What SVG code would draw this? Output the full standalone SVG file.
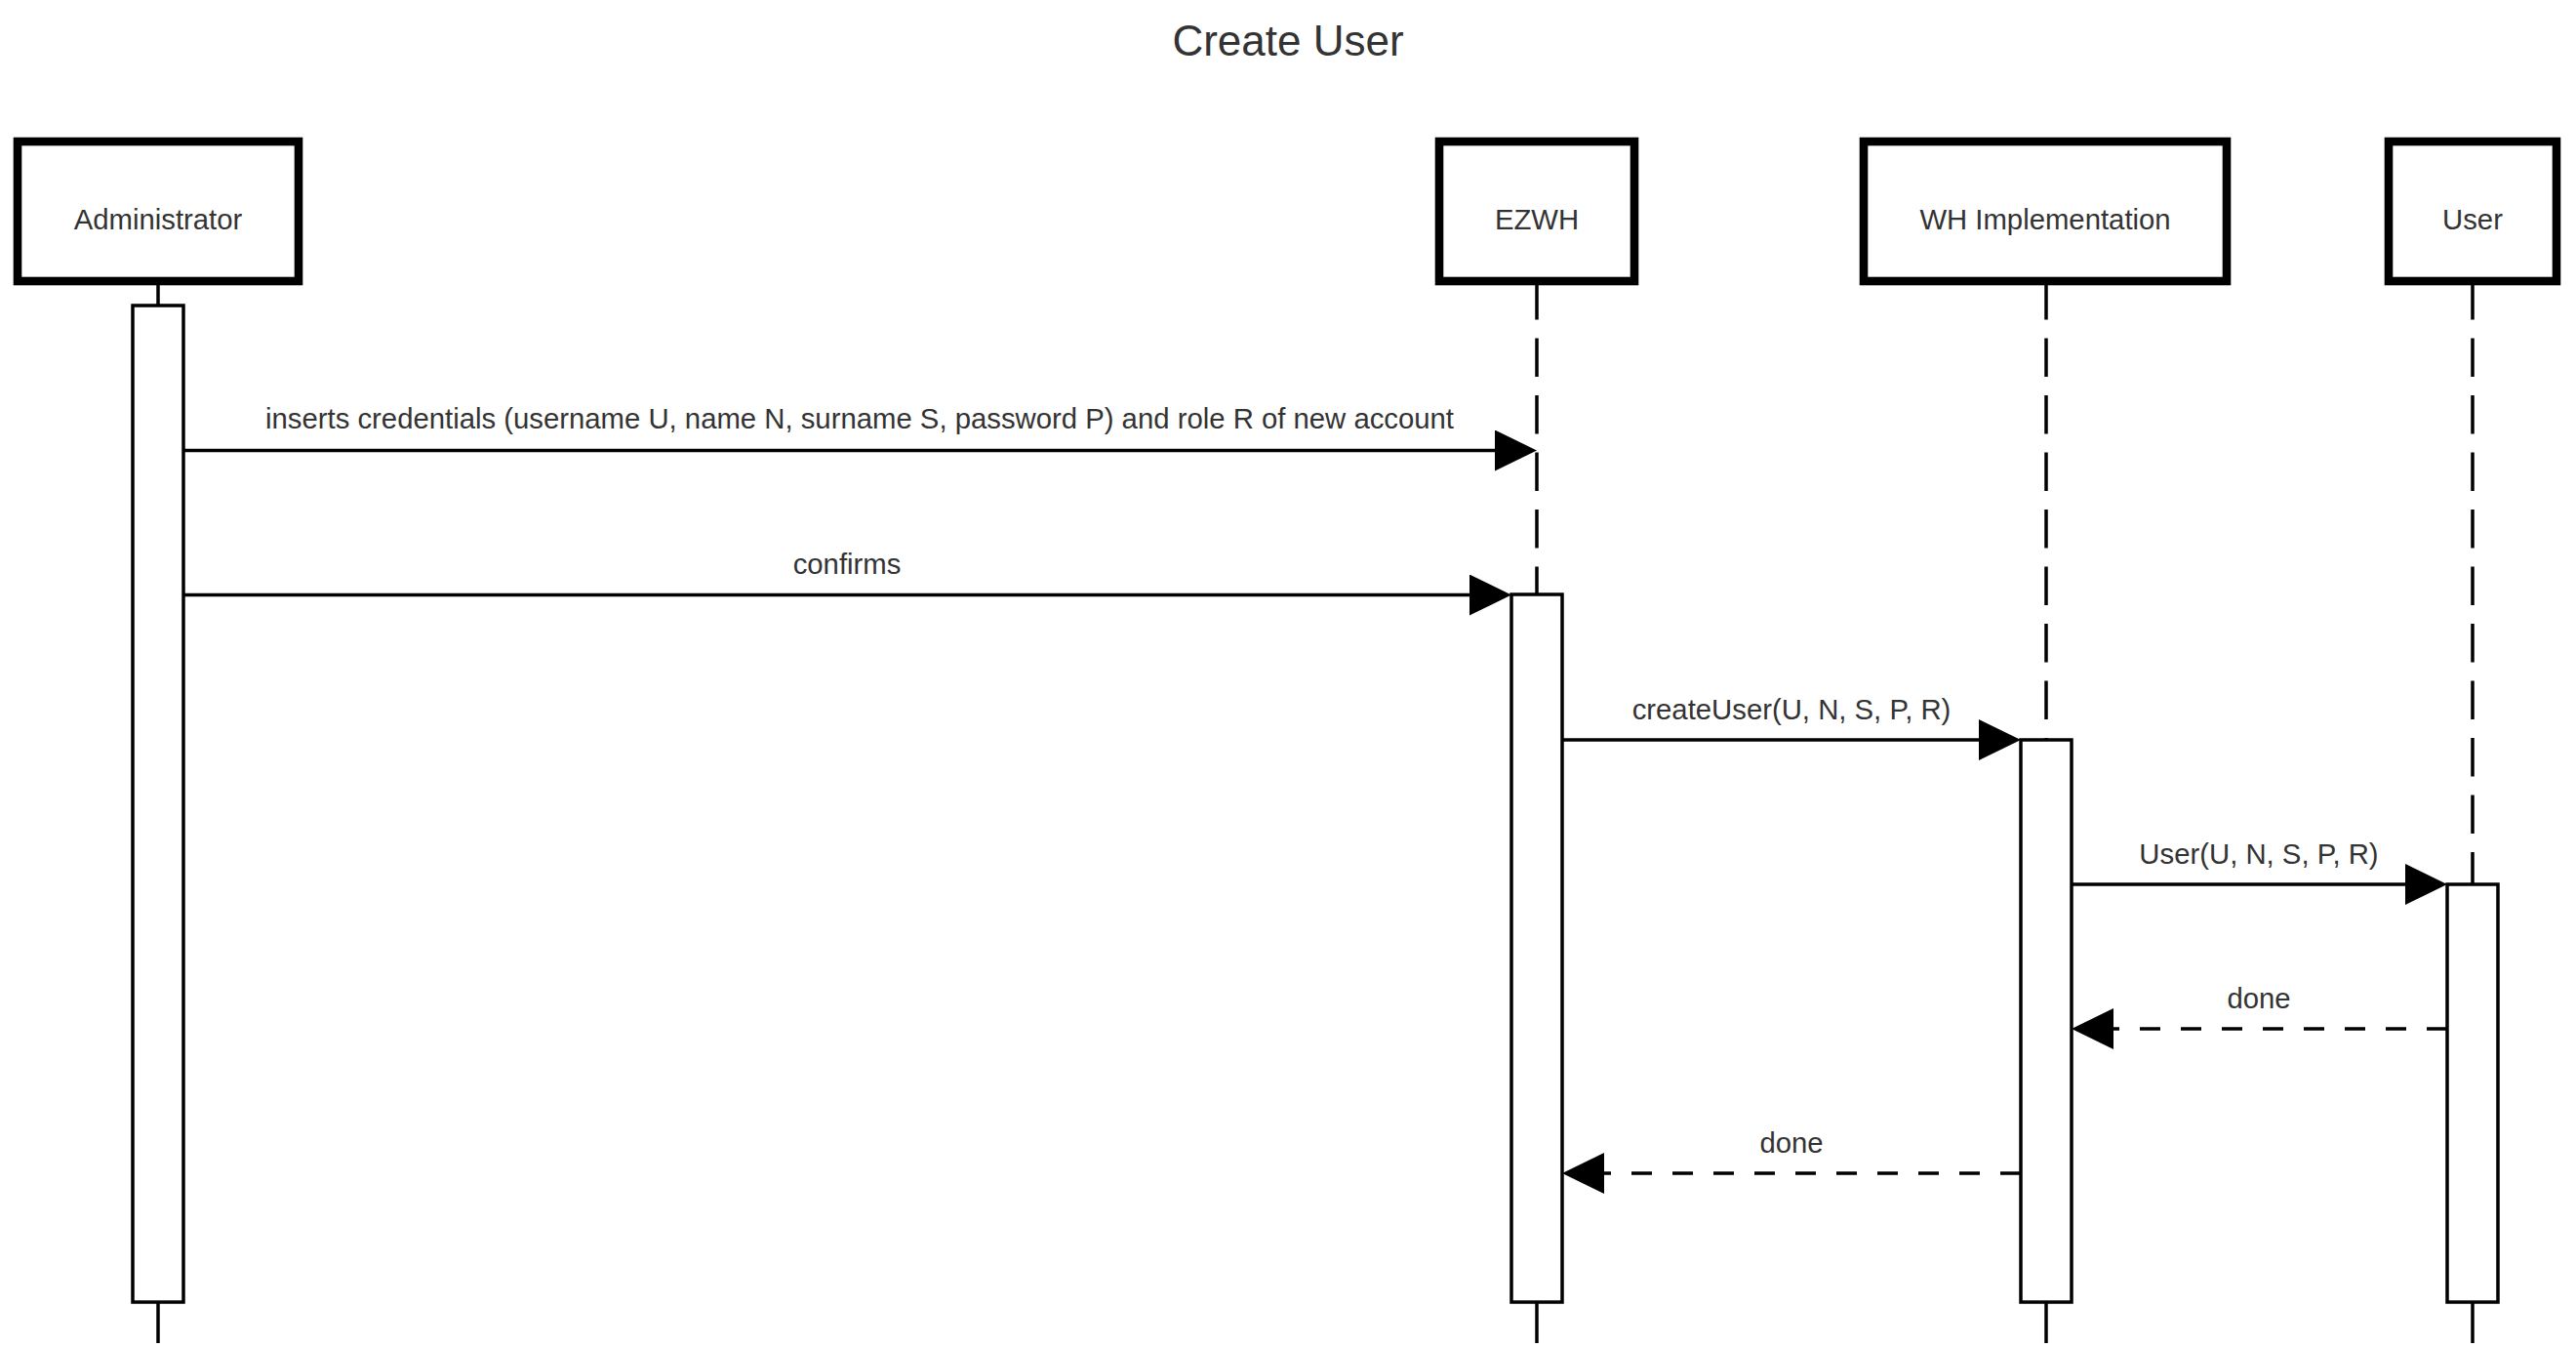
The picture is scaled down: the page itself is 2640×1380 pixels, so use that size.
<svg xmlns="http://www.w3.org/2000/svg" width="2640" height="1380" viewBox="0 0 2640 1380">
  <style>
    .bg { fill: #ffffff; }
    .title { font-family: "Liberation Sans", Arial, Helvetica, sans-serif; font-size: 44px; fill: #333333; text-anchor: middle; }
    .lbl { font-family: "Liberation Sans", Arial, Helvetica, sans-serif; font-size: 29.3px; fill: #333333; text-anchor: middle; }
    .actor { fill: #ffffff; stroke: #000000; stroke-width: 8.6; }
    .life { fill: none; stroke: #000000; stroke-width: 3.5; stroke-dasharray: 39.5 19; }
    .stem { fill: none; stroke: #000000; stroke-width: 3.5; }
    .act { fill: #ffffff; stroke: #000000; stroke-width: 3.5; }
    .msg { fill: none; stroke: #000000; stroke-width: 3.5; marker-end: url(#arrow); }
    .ret { fill: none; stroke: #000000; stroke-width: 3.5; stroke-dasharray: 21 21; marker-end: url(#arrow); }
  </style>
  <defs>
    <marker id="arrow" viewBox="0 0 43 42" refX="0" refY="21" markerWidth="43" markerHeight="42" markerUnits="userSpaceOnUse" orient="auto">
      <path d="M0,0 L43,21 L0,42 Z" fill="#000000" stroke="none"/>
    </marker>
  </defs>

  <rect class="bg" x="0" y="0" width="2640" height="1380"/>

  <g id="title">
    <text class="title" x="1320" y="57">Create User</text>
  </g>

  <g id="administrator">
    <line class="life" x1="162" y1="288" x2="162" y2="313"/>
    <line class="stem" x1="162" y1="1334" x2="162" y2="1376"/>
    <rect class="act" x="136" y="313" width="52" height="1021"/>
    <rect class="actor" x="18" y="145" width="288" height="143"/>
    <text class="lbl" x="162" y="235">Administrator</text>
  </g>

  <g id="ezwh">
    <line class="life" x1="1575" y1="288" x2="1575" y2="609"/>
    <line class="stem" x1="1575" y1="1334" x2="1575" y2="1376"/>
    <rect class="act" x="1549" y="609" width="52" height="725"/>
    <rect class="actor" x="1475" y="145" width="200" height="143"/>
    <text class="lbl" x="1575" y="235">EZWH</text>
  </g>

  <g id="wh-implementation">
    <line class="life" x1="2097" y1="288" x2="2097" y2="758"/>
    <line class="stem" x1="2097" y1="1334" x2="2097" y2="1376"/>
    <rect class="act" x="2071" y="758" width="52" height="576"/>
    <rect class="actor" x="1910" y="145" width="372" height="143"/>
    <text class="lbl" x="2096" y="235">WH Implementation</text>
  </g>

  <g id="user">
    <line class="life" x1="2534" y1="288" x2="2534" y2="906"/>
    <line class="stem" x1="2534" y1="1334" x2="2534" y2="1376"/>
    <rect class="act" x="2508" y="906" width="52" height="428"/>
    <rect class="actor" x="2448" y="145" width="172" height="143"/>
    <text class="lbl" x="2534" y="235">User</text>
  </g>

  <g id="connectors">
    <line class="msg" x1="188" y1="461.5" x2="1532" y2="461.5"/>
    <text class="lbl" x="881" y="439">inserts credentials (username U, name N, surname S, password P) and role R of new account</text>

    <line class="msg" x1="188" y1="609.5" x2="1506" y2="609.5"/>
    <text class="lbl" x="868" y="588">confirms</text>

    <line class="msg" x1="1601" y1="758" x2="2028" y2="758"/>
    <text class="lbl" x="1836" y="737">createUser(U, N, S, P, R)</text>

    <line class="msg" x1="2123" y1="906" x2="2465" y2="906"/>
    <text class="lbl" x="2315" y="885">User(U, N, S, P, R)</text>

    <line class="ret" x1="2508" y1="1054" x2="2166" y2="1054"/>
    <text class="lbl" x="2315" y="1033">done</text>

    <line class="ret" x1="2071" y1="1202" x2="1644" y2="1202"/>
    <text class="lbl" x="1836" y="1181">done</text>
  </g>
</svg>
